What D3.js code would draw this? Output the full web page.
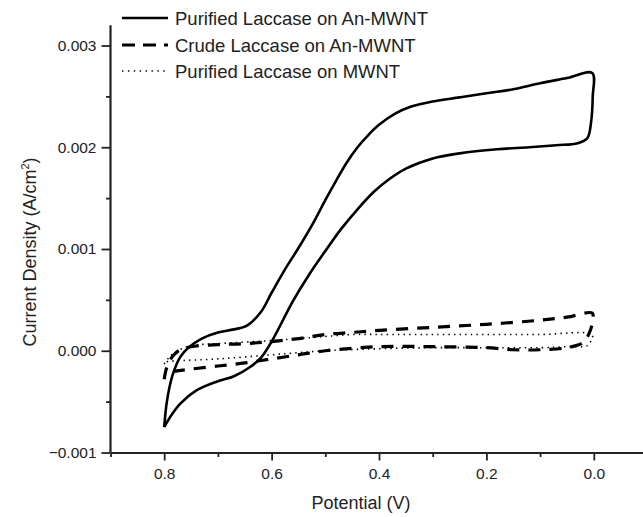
<!DOCTYPE html>
<html><head><meta charset="utf-8">
<script src="https://cdn.jsdelivr.net/npm/d3@7"></script>
<style>
body{margin:0;background:#fff;}
svg{display:block;font-family:"Liberation Sans",Arial,sans-serif;}
</style></head>
<body><svg id="c" width="643" height="517"></svg>
<script>
// Series: closed CV loops, [potential V, current density A/cm2]
const purifiedAnMWNT = [
 [0.80,-0.00075],[0.795,-0.00050],[0.785,-0.00025],[0.77,-0.00006],[0.755,0.00003],[0.73,0.00012],[0.70,0.00018],[0.67,0.00021],[0.645,0.00025],[0.62,0.00038],
 [0.60,0.00057],[0.575,0.00080],[0.55,0.00101],[0.52,0.00128],[0.50,0.00148],[0.48,0.00167],[0.46,0.00185],[0.44,0.00200],[0.42,0.00212],[0.40,0.00222],
 [0.37,0.00233],[0.34,0.00240],[0.30,0.00245],[0.25,0.00249],[0.20,0.00253],[0.15,0.00257],[0.10,0.00263],[0.05,0.00268],[0.003,0.00273],
 [0.002,0.00250],[0.005,0.00225],[0.012,0.00209],[0.03,0.00204],[0.07,0.00202],[0.12,0.00200],[0.18,0.00198],[0.25,0.00194],[0.30,0.00189],[0.35,0.00179],
 [0.38,0.00169],[0.41,0.00156],[0.44,0.00139],[0.47,0.00120],[0.50,0.00098],[0.53,0.00075],[0.56,0.00049],[0.60,0.00009],[0.62,-0.00007],[0.64,-0.00016],
 [0.67,-0.00025],[0.70,-0.00030],[0.74,-0.00039],[0.77,-0.00052],[0.79,-0.00066],[0.80,-0.00075]
];
const crudeAnMWNT = [
 [0.80,-0.00028],[0.795,-0.00016],[0.785,-0.00006],[0.77,0.00001],[0.75,0.00004],[0.70,0.00006],[0.65,0.00007],[0.60,0.00009],[0.55,0.00012],[0.50,0.00016],
 [0.45,0.00018],[0.40,0.00020],[0.30,0.00023],[0.20,0.00026],[0.10,0.00030],[0.05,0.00033],[0.003,0.00037],
 [0.002,0.00030],[0.008,0.00018],[0.02,0.00008],[0.05,0.00003],[0.10,0.00001],[0.15,0.00001],[0.20,0.00003],[0.30,0.00004],[0.40,0.00004],[0.50,0.00000],
 [0.55,-0.00004],[0.60,-0.00008],[0.65,-0.00012],[0.70,-0.00015],[0.75,-0.00018],[0.78,-0.00020],[0.80,-0.00022]
];
const purifiedMWNT = [
 [0.80,-0.00013],[0.79,-0.00006],[0.775,0.00000],[0.75,0.00005],[0.70,0.00007],[0.60,0.00010],[0.50,0.00014],[0.45,0.00016],[0.40,0.00016],[0.30,0.00016],
 [0.20,0.00016],[0.10,0.00016],[0.003,0.00016],
 [0.005,0.00010],[0.012,0.00005],[0.05,0.00004],[0.10,0.00003],[0.20,0.00003],[0.30,0.00003],[0.40,0.00002],[0.50,0.00000],[0.60,-0.00004],[0.70,-0.00008],
 [0.78,-0.00010],[0.80,-0.00011]
];
const seriesNames = ["Purified Laccase on An-MWNT","Crude Laccase on An-MWNT","Purified Laccase on MWNT"];
const xTicks = [0.8,0.6,0.4,0.2,0.0];
const xMinorTicks = [0.9,0.7,0.5,0.3,0.1,-0.1];
const yTicks = [-0.001,0.000,0.001,0.002,0.003];
const yMinorTicks = [-0.0005,0.0005,0.0015,0.0025];

const svg = d3.select("#c");
const x = d3.scaleLinear().domain([0.9,-0.1]).range([110.5,647.5]);
const y = d3.scaleLinear().domain([-0.001,0.003]).range([452.5,45.5]);
const yTop = y(0.0032);

const styles = [
 {dash:null, w:2.6},
 {dash:"12,9", w:3.2},
 {dash:"1.4,4.2", w:1.6}
];
const data = [purifiedAnMWNT, crudeAnMWNT, purifiedMWNT];

const line = d3.line().x(d=>x(d[0])).y(d=>y(d[1])).curve(d3.curveCatmullRom.alpha(0.5));
data.forEach((s,i)=>{
  svg.append("path").attr("d",line(s)).attr("fill","none").attr("stroke","#000")
   .attr("stroke-width",styles[i].w).attr("stroke-dasharray",styles[i].dash)
   .attr("stroke-linejoin","round");
});

// axes
const gx = svg.append("g").attr("transform",`translate(0,${y(-0.001)})`);
gx.call(d3.axisBottom(x).tickValues(xTicks).tickFormat(d3.format(".1f")).tickSize(8).tickPadding(7).tickSizeOuter(0));
gx.append("g").call(d3.axisBottom(x).tickValues(xMinorTicks).tickFormat("").tickSize(4.5).tickSizeOuter(0)).select(".domain").remove();
const gy = svg.append("g").attr("transform",`translate(${x(0.9)},0)`);
gy.call(d3.axisLeft(y).tickValues(yTicks).tickFormat(d3.format(".3f")).tickSize(9).tickPadding(5).tickSizeOuter(0));
gy.select(".domain").attr("d",`M0,${yTop}V${y(-0.001)}`);
gy.append("g").call(d3.axisLeft(y).tickValues(yMinorTicks).tickFormat("").tickSize(4.5).tickSizeOuter(0)).select(".domain").remove();
svg.selectAll(".domain").attr("stroke","#222").attr("stroke-width",2.2);
svg.selectAll(".tick line").attr("stroke","#222").attr("stroke-width",1.8);
svg.selectAll(".tick text").attr("font-size",15.5).attr("fill","#222").attr("font-family","Liberation Sans, Arial, sans-serif");

// titles
svg.append("text").attr("x",361).attr("y",509).attr("text-anchor","middle").attr("font-size",18).attr("fill","#222").text("Potential (V)");
const yt = svg.append("text").attr("transform","translate(36,252) rotate(-90)").attr("text-anchor","middle").attr("font-size",18).attr("fill","#222");
yt.append("tspan").text("Current Density (A/cm");
yt.append("tspan").attr("font-size",11).attr("dy",-7).text("2");
yt.append("tspan").attr("dy",7).text(")");

// legend
const legY = [18,45,71];
seriesNames.forEach((n,i)=>{
  svg.append("line").attr("x1",122).attr("x2",168).attr("y1",legY[i]).attr("y2",legY[i])
   .attr("stroke","#000").attr("stroke-width",styles[i].w).attr("stroke-dasharray",i===1?"13,8":(i===2?"1.4,4.5":null));
  svg.append("text").attr("x",175).attr("y",legY[i]+6.5).attr("font-size",18.5).attr("fill","#222").text(n);
});
</script></body></html>
